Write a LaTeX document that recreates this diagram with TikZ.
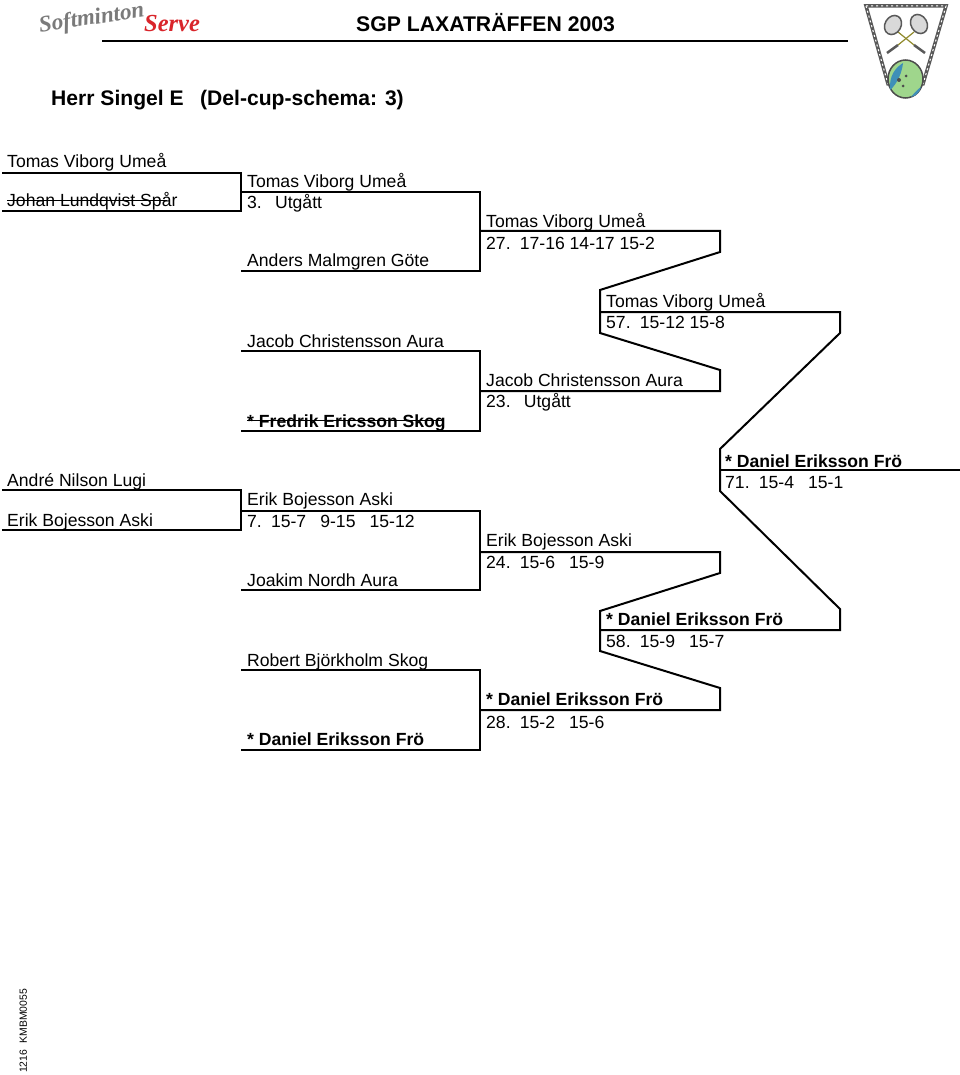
\documentclass[tikz,border=0pt]{standalone}
\usepackage{fontspec}
\setmainfont{Liberation Sans}
\newfontfamily\logofont{Liberation Serif}
\usetikzlibrary{calc}
\definecolor{logored}{HTML}{D9252B}
\definecolor{logogray}{HTML}{7A7A7A}
\definecolor{globegreen}{HTML}{9FD68C}
\definecolor{globeblue}{HTML}{3F8FB8}
\newcommand{\numgap}{\hspace{0.52em}}
\newcommand{\setgap}{\hspace{0.8em}}
\tikzset{
  player/.style={anchor=base west,inner sep=0pt,font=\fontsize{17.6}{20}\selectfont},
  winner/.style={player,font=\fontsize{17.6}{20}\selectfont\bfseries},
  bracket/.style={line width=2pt,line join=miter},
  strike/.style={line width=1.5pt},
  racket/.style={fill=gray!30,draw=gray!70!black,line width=1.5pt},
  shaft/.style={olive!70!gray,line width=1.2pt},
  grip/.style={gray!70!black,line width=2.5pt}
}
\begin{document}
\begin{tikzpicture}[x=1pt,y=-1pt]
  \useasboundingbox (0,0) rectangle (960,1075);
  % header
  \node[anchor=base west,inner sep=0pt,font=\fontsize{21.2}{24}\selectfont\bfseries] (event) at (356,32) {SGP LAXATRÄFFEN 2003};
  \node[anchor=base west,inner sep=0pt,font=\fontsize{21.1}{24}\selectfont\bfseries] (title) at (51,106) {Herr Singel E\hspace{0.78em}(Del-cup-schema: 3)};
  \coordinate (headL) at (102,41);
  \coordinate (headR) at (848,41);
  \draw[line width=2pt] (headL) -- (headR);
  \node[anchor=base west,inner sep=0pt,rotate=90,font=\fontsize{10.4}{12}\selectfont] (code) at (27,1073) {1216\hspace{0.6em}KMBM0055};
  % logo
  \node[anchor=base west,inner sep=0pt,rotate=9,text=logogray,font=\fontsize{23}{24}\selectfont\logofont\itshape\bfseries] (soft) at (40,33) {Softminton};
  \node[anchor=base west,inner sep=0pt,text=logored,font=\fontsize{24.5}{26}\selectfont\logofont\itshape\bfseries] (serve) at (144,32) {Serve};
  % shield
  \draw[gray!70!black,line width=3.5pt,fill=white] (866,6) -- (946,6) -- (923,84) -- (888,84) -- cycle;
  \draw[white,line width=1pt,dash pattern=on 2pt off 3pt] (866,6) -- (946,6) -- (923,84);
  \draw[white,line width=1pt,dash pattern=on 2pt off 3pt] (866,6) -- (888,84);
  \draw[shaft] (898,32) -- (914,45);
  \draw[shaft] (914,32) -- (898,45);
  \draw[grip] (914,45) -- (925,53);
  \draw[grip] (898,45) -- (887,53);
  \draw[racket,rotate around={-30:(893,25)}] (893,25) ellipse (8 and 10);
  \draw[racket,rotate around={30:(919,24)}] (919,24) ellipse (8 and 10);
  \fill[globegreen,draw=gray!60!black,line width=1.5pt] (905.5,79) ellipse (17.5 and 19);
  \fill[globeblue] (890,90) .. controls (889,76) and (895,68) .. (903,63) .. controls (902,73) and (897,84) .. (890,90);
  \fill[globeblue] (911,97) .. controls (915,92) and (918,89) .. (921,87) .. controls (920,92) and (916,96) .. (911,97);
  \fill[black!70] (899,80) circle (2);
  \fill[black!70] (906,76) circle (1.5);
  \fill[black!70] (903,86) circle (1.5);
  % first round
  \node[player] (a1) at (7,168) {Tomas Viborg Umeå};
  \node[player] (a2) at (7,206.5) {Johan Lundqvist Spår};
  \node[player] (a3) at (7,486) {André Nilson Lugi};
  \node[player] (a4) at (7,526) {Erik Bojesson Aski};
  % second round
  \node[player] (b1) at (247,187.5) {Tomas Viborg Umeå};
  \node[player] (b1s) at (247,208.5) {3.\hspace{0.75em}Utgått};
  \node[player] (b2) at (247,266) {Anders Malmgren Göte};
  \node[player] (b3) at (247,347) {Jacob Christensson Aura};
  \node[winner] (b4) at (247,427) {* Fredrik Ericsson Skog};
  \node[player] (b5) at (247,505.5) {Erik Bojesson Aski};
  \node[player] (b5s) at (247,527) {7.\numgap 15-7\setgap 9-15\setgap 15-12};
  \node[player] (b6) at (247,586.5) {Joakim Nordh Aura};
  \node[player] (b7) at (247,666) {Robert Björkholm Skog};
  \node[winner] (b8) at (247,745) {* Daniel Eriksson Frö};
  % third round
  \node[player] (c1) at (486,227.5) {Tomas Viborg Umeå};
  \node[player] (c1s) at (486,249) {27.\numgap 17-16 14-17 15-2};
  \node[player] (c2) at (486,386) {Jacob Christensson Aura};
  \node[player] (c2s) at (486,407.5) {23.\hspace{0.75em}Utgått};
  \node[player] (c3) at (486,546) {Erik Bojesson Aski};
  \node[player] (c3s) at (486,568) {24.\numgap 15-6\setgap 15-9};
  \node[winner] (c4) at (486,705) {* Daniel Eriksson Frö};
  \node[player] (c4s) at (486,728) {28.\numgap 15-2\setgap 15-6};
  % fourth round
  \node[player] (d1) at (606,307) {Tomas Viborg Umeå};
  \node[player] (d1s) at (606,328.5) {57.\numgap 15-12 15-8};
  \node[winner] (d2) at (606,625.5) {* Daniel Eriksson Frö};
  \node[player] (d2s) at (606,647) {58.\numgap 15-9\setgap 15-7};
  % final
  \node[winner] (e1) at (725,467) {* Daniel Eriksson Frö};
  \node[player] (e1s) at (725,488) {71.\numgap 15-4\setgap 15-1};
  % crossed out
  \draw[strike] ($(a2.base west)+(0,-6)$) -- ++(160,0);
  \draw[strike] ($(b4.base west)+(0,-6.5)$) -- ($(b4.base east)+(-2,-6.5)$);
  % brackets
  \draw[bracket] (2,173) -- (241,173) -- (241,211) -- (2,211);
  \draw[bracket] (2,490) -- (241,490) -- (241,530) -- (2,530);
  \draw[bracket] (241,192) -- (480,192) -- (480,271) -- (241,271);
  \draw[bracket] (241,351) -- (480,351) -- (480,431) -- (241,431);
  \draw[bracket] (241,511) -- (480,511) -- (480,590) -- (241,590);
  \draw[bracket] (241,670) -- (480,670) -- (480,750) -- (241,750);
  \draw[bracket] (480,231) -- (720,231) -- (720,252) -- (600,290) -- (600,333) -- (720,370) -- (720,391) -- (480,391);
  \draw[bracket] (480,552) -- (720,552) -- (720,573) -- (600,611) -- (600,651) -- (720,688) -- (720,710) -- (480,710);
  \draw[bracket] (600,312) -- (840,312) -- (840,333) -- (720,449) -- (720,491) -- (840,609) -- (840,630) -- (600,630);
  \draw[bracket] (720,470) -- (960,470);
\end{tikzpicture}
\end{document}
